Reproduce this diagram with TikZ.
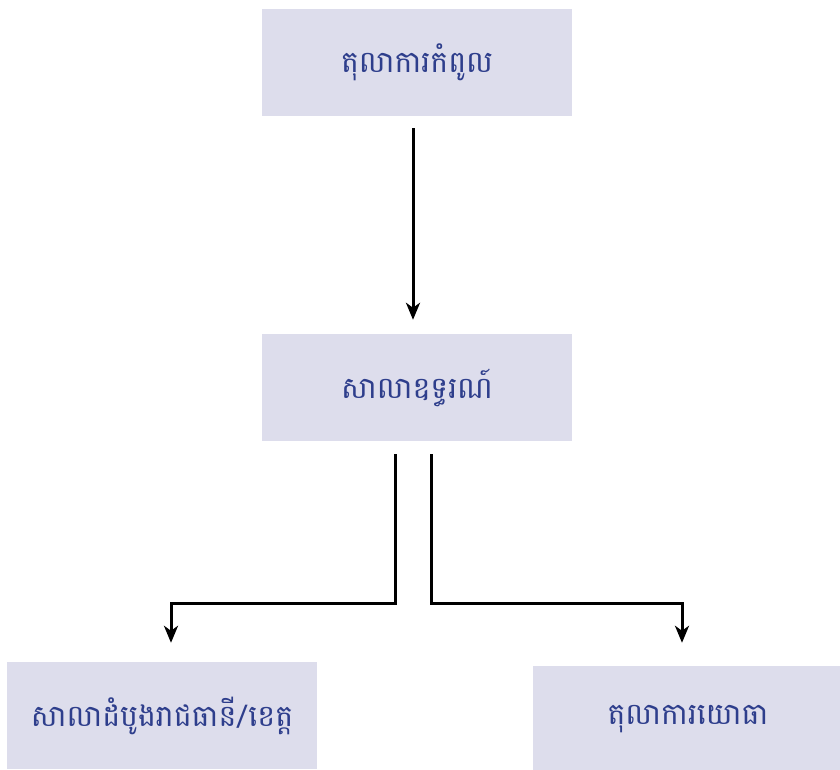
\documentclass[tikz,border=0pt]{standalone}
\usepackage{fontspec}
\newfontfamily\khmerfont[Script=Khmer]{Battambang}
\usetikzlibrary{arrows.meta}
\definecolor{boxfill}{RGB}{221,221,236}
\definecolor{boxtext}{RGB}{46,62,140}

\begin{document}
\begin{tikzpicture}[x=1pt,y=1pt,
    box/.style={fill=boxfill, text=boxtext, minimum width=310pt, minimum height=107pt,
                inner sep=0pt, font=\khmerfont\fontsize{30}{36}\selectfont},
    arrow/.style={line width=3pt, -{Stealth[length=17pt,width=14pt,inset=5pt]}}]
  \useasboundingbox (0,0) rectangle (840,769);
  %
  \node[box] (supreme) at (417,706.5) {តុលាការកំពូល};
  \node[box] (appeal)  at (417,381.5) {សាលាឧទ្ធរណ៍};
  \node[box] (first)   at (162,53.5)  {សាលាដំបូងរាជធានី/ខេត្ត};
  \node[box] (military) at (688,49.5) {តុលាការយោធា};
  %
  \draw[arrow, shorten <=12pt, shorten >=14pt] ([xshift=-4pt]supreme.south) -- ([xshift=-4pt]appeal.north);
  \draw[arrow, shorten <=13pt, shorten >=19pt] ([xshift=-22pt]appeal.south) -- ++(0,-162) -| ([xshift=9pt]first.north);     % down to the first instance courts
  \draw[arrow, shorten <=13pt, shorten >=23pt] ([xshift=14pt]appeal.south) -- ++(0,-162) -| ([xshift=-6pt]military.north); % down to the military court
\end{tikzpicture}
\end{document}
